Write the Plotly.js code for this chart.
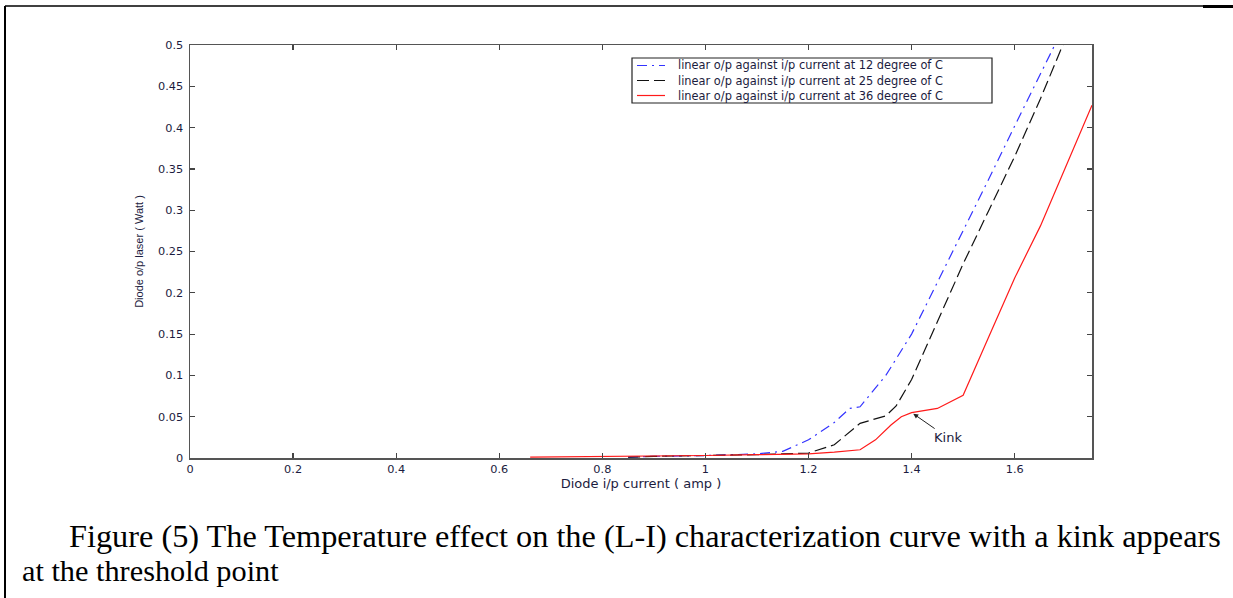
<!DOCTYPE html>
<html>
<head>
<meta charset="utf-8">
<script src="https://cdn.plot.ly/plotly-3.0.1.min.js"></script>
<style>
html,body{margin:0;padding:0;background:#fff;}
#chart{width:1233px;height:598px;}
</style>
</head>
<body>
<div id="chart"></div>
<script>
// Data
var current12 = [0.85, 0.9, 1.0, 1.1, 1.15, 1.2, 1.25, 1.28, 1.3, 1.35, 1.4, 1.45, 1.5, 1.55, 1.6, 1.65, 1.7];
var power12   = [0.001, 0.002, 0.003, 0.005, 0.008, 0.022, 0.043, 0.060, 0.062, 0.100, 0.150, 0.212, 0.275, 0.338, 0.402, 0.465, 0.528];

var current25 = [0.85, 0.9, 1.0, 1.1, 1.2, 1.25, 1.3, 1.35, 1.37, 1.4, 1.45, 1.5, 1.55, 1.6, 1.65, 1.7, 1.72];
var power25   = [0.001, 0.002, 0.003, 0.004, 0.006, 0.016, 0.042, 0.051, 0.063, 0.095, 0.165, 0.235, 0.300, 0.365, 0.435, 0.510, 0.54];

var current36 = [0.66, 0.9, 1.0, 1.1, 1.2, 1.25, 1.3, 1.33, 1.36, 1.38, 1.4, 1.45, 1.5, 1.55, 1.6, 1.65, 1.7, 1.75];
var power36   = [0.001, 0.002, 0.003, 0.004, 0.005, 0.007, 0.010, 0.022, 0.040, 0.050, 0.055, 0.060, 0.076, 0.147, 0.218, 0.281, 0.354, 0.427];

var seriesNames = [
  "linear o/p against i/p current at 12 degree of C",
  "linear o/p against i/p current at 25 degree of C",
  "linear o/p against i/p current at 36 degree of C"
];
var seriesColors = ['#3333ff', '#111111', '#ff1a1a'];
var seriesDash = ['10px,5px,2px,5px', '12px,5px', 'solid'];
var xTickVals = [0, 0.2, 0.4, 0.6, 0.8, 1, 1.2, 1.4, 1.6];
var yTickVals = [0, 0.05, 0.1, 0.15, 0.2, 0.25, 0.3, 0.35, 0.4, 0.45, 0.5];
var captionLines = [
  'Figure (5) The Temperature effect on the (L-I) characterization curve with a kink appears',
  'at the threshold point'
];

var xs = [current12, current25, current36];
var ys = [power12, power25, power36];
var traces = xs.map(function(xv, i){
  return {x: xv, y: ys[i], name: seriesNames[i], mode: 'lines', showlegend: false,
          line: {color: seriesColors[i], width: 1.2, dash: seriesDash[i]}};
});

var W = 1233, H = 598, L = 190, R = 1092, T = 45, B = 458;
function px(x){ return (x - L) / (R - L); }
function py(y){ return (B - y) / (B - T); }

var FONT = 'DejaVu Sans, Verdana, sans-serif';
var TXT = '#1c1c40';

var axisCommon = {
  showline: true, mirror: 'ticks', linecolor: '#555555', linewidth: 1.5,
  ticks: 'inside', ticklen: 5, tickcolor: '#444444', tickwidth: 1.2,
  showgrid: false, zeroline: false,
  tickfont: {family: FONT, size: 11.3, color: TXT}
};

var annotations = [
  {x: 1.4, y: 0.055, xref: 'x', yref: 'y', text: 'Kink', showarrow: true,
   arrowhead: 2, arrowsize: 1, arrowwidth: 1, arrowcolor: '#222222',
   ax: 36, ay: 25, standoff: 2,
   font: {family: FONT, size: 13, color: TXT}},
  {x: px(67), y: py(536), xref: 'paper', yref: 'paper', xanchor: 'left', yanchor: 'middle',
   showarrow: false, text: captionLines[0],
   font: {family: 'Liberation Serif, Times New Roman, serif', size: 32.3, color: '#000000'}},
  {x: px(20), y: py(571), xref: 'paper', yref: 'paper', xanchor: 'left', yanchor: 'middle',
   showarrow: false, text: captionLines[1],
   font: {family: 'Liberation Serif, Times New Roman, serif', size: 30.3, color: '#000000'}}
];

var shapes = [
  {type: 'line', xref: 'paper', yref: 'paper', x0: px(5), x1: px(5), y0: py(6), y1: py(598),
   line: {color: '#000000', width: 2}},
  {type: 'line', xref: 'paper', yref: 'paper', x0: px(5), x1: px(1203), y0: py(6), y1: py(6),
   line: {color: '#000000', width: 1.5}},
  {type: 'line', xref: 'paper', yref: 'paper', x0: px(1203), x1: px(1233), y0: py(6.5), y1: py(6.5),
   line: {color: '#000000', width: 3}},
  // legend box
  {type: 'rect', xref: 'paper', yref: 'paper', x0: px(632), x1: px(992), y0: py(58), y1: py(103),
   fillcolor: '#ffffff', line: {color: '#222222', width: 1.2}}
];

var legendRows = [65.5, 80.5, 95.5];
seriesNames.forEach(function(name, i){
  shapes.push({type: 'line', xref: 'paper', yref: 'paper', x0: px(637), x1: px(665),
               y0: py(legendRows[i]), y1: py(legendRows[i]),
               line: {color: seriesColors[i], width: 1.2, dash: seriesDash[i]}});
  annotations.push({x: px(676), y: py(legendRows[i]), xref: 'paper', yref: 'paper',
                    xanchor: 'left', yanchor: 'middle', showarrow: false, text: name,
                    font: {family: FONT, size: 11.4, color: TXT}});
});

var layout = {
  width: W, height: H,
  margin: {l: L, r: W - R, t: T, b: H - B},
  paper_bgcolor: '#ffffff', plot_bgcolor: '#ffffff',
  showlegend: false,
  xaxis: Object.assign({}, axisCommon, {
    range: [0, 1.75], tickvals: xTickVals, ticktext: xTickVals.map(String),
    title: {text: 'Diode i/p current ( amp )', standoff: 1,
            font: {family: FONT, size: 13, color: TXT}}
  }),
  yaxis: Object.assign({}, axisCommon, {
    range: [0, 0.5], tickvals: yTickVals, ticktext: yTickVals.map(String),
    ticklabelstandoff: 3,
    title: {text: 'Diode o/p laser ( Watt )', standoff: 12,
            font: {family: 'Liberation Sans Narrow, Arial Narrow, Liberation Sans, sans-serif', size: 11, color: TXT}}
  }),
  annotations: annotations,
  shapes: shapes
};

Plotly.newPlot('chart', traces, layout, {staticPlot: true, displayModeBar: false});
</script>
</body>
</html>
